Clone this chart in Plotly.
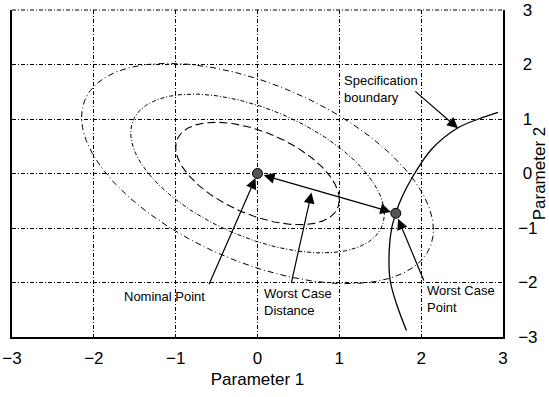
import numpy as np
import plotly.graph_objects as go

# ---------------- data ----------------
x_ticks = [-3, -2, -1, 0, 1, 2, 3]
y_ticks = [-3, -2, -1, 0, 1, 2, 3]
x_tick_text = ["\u22123", "\u22122", "\u22121", "0", "1", "2", "3"]
y_tick_text = ["\u22123", "\u22122", "\u22121", "\u00a00", "\u00a01", "\u00a02", "\u00a03"]

nominal_x = [0.0]
nominal_y = [0.0]
worst_x = [1.69]
worst_y = [-0.73]

# parameters of the Gaussian probability contours
sigma_1 = 1.0
sigma_2 = 0.94
rho = -0.51
contour_levels = [1.0, 1.55, 2.15]

# specification boundary curve
spec_x = [1.82, 1.70, 1.62, 1.61, 1.64, 1.69, 1.76, 1.90, 2.13, 2.44, 2.70, 2.94]
spec_y = [-2.88, -2.40, -1.95, -1.40, -1.00, -0.73, -0.45, -0.05, 0.45, 0.83, 1.00, 1.12]

# text labels (text, left x, vertical centre y)
label_texts = ["Specification<br>boundary", "Nominal Point",
               "Worst Case<br>Distance", "Worst Case<br>Point"]
label_x = [1.03, -1.65, 0.054, 2.05]
label_y = [1.55, -2.26, -2.36, -2.31]

FONT = "Liberation Sans, Arial, Helvetica, sans-serif"

fig = go.Figure()

# contours
styles = [dict(dash="8px,4px", width=1.1),
          dict(dash="4px,2px,1px,2px", width=1.0),
          dict(dash="6px,3px,1px,3px", width=1.0)]
t = np.linspace(0, 2 * np.pi, 361)
for k, st in zip(contour_levels, styles):
    ex = k * sigma_1 * np.cos(t)
    ey = k * sigma_2 * (rho * np.cos(t) + np.sqrt(1 - rho ** 2) * np.sin(t))
    fig.add_trace(go.Scatter(x=ex, y=ey, mode="lines",
                             line=dict(color="black", **st),
                             hoverinfo="skip", showlegend=False))

# specification boundary
fig.add_trace(go.Scatter(x=spec_x, y=spec_y, mode="lines",
                         line=dict(color="black", width=1.3, shape="spline"),
                         showlegend=False))

# points
fig.add_trace(go.Scatter(x=nominal_x + worst_x, y=nominal_y + worst_y, mode="markers",
                         marker=dict(size=10, color="#555555",
                                     line=dict(color="black", width=1)),
                         showlegend=False))

arrow_kw = dict(text="", showarrow=True, xref="x", yref="y", axref="x", ayref="y",
                arrowhead=2, arrowsize=1.8, arrowwidth=1.2, arrowcolor="black")

# double-headed worst case distance arrow
fig.add_annotation(x=worst_x[0], y=worst_y[0], ax=nominal_x[0], ay=nominal_y[0],
                   arrowside="end+start", standoff=5, startstandoff=5, **arrow_kw)
# label arrows
fig.add_annotation(x=2.45, y=0.83, ax=1.91, ay=1.53, **arrow_kw)
fig.add_annotation(x=nominal_x[0], y=nominal_y[0], ax=-0.60, ay=-2.06, standoff=5, **arrow_kw)
fig.add_annotation(x=0.66, y=-0.35, ax=0.41, ay=-2.03, **arrow_kw)
fig.add_annotation(x=worst_x[0], y=worst_y[0], ax=2.04, ay=-1.99, standoff=6, **arrow_kw)

for txt, lx, ly in zip(label_texts, label_x, label_y):
    fig.add_annotation(x=lx, y=ly, text=txt, showarrow=False, xref="x", yref="y",
                       xanchor="left", yanchor="middle", align="left",
                       font=dict(family=FONT, size=13, color="black"))

grid_kw = dict(showgrid=True, gridcolor="black", gridwidth=1, griddash="4px,2px,1px,2px",
               zeroline=False, showline=True, linecolor="black", linewidth=1.5,
               ticks="", tickfont=dict(family=FONT, size=17, color="black"),
               ticklabeloverflow="allow")

fig.update_xaxes(range=[-3, 3], tickvals=x_ticks, ticktext=x_tick_text,
                 title=dict(text="Parameter 1", font=dict(family=FONT, size=17, color="black"),
                            standoff=6),
                 ticklabelstandoff=5, automargin=False, mirror=False, **grid_kw)
fig.update_yaxes(range=[-3, 3], tickvals=y_ticks, ticktext=y_tick_text, side="right",
                 title=dict(text="Parameter 2", font=dict(family=FONT, size=17, color="black"),
                            standoff=8),
                 ticklabelstandoff=10, automargin=False, mirror=True, **grid_kw)

# dash-dot top edge of the frame (grid line at the top of the range)
fig.add_shape(type="line", xref="paper", yref="paper", x0=0, x1=1, y0=1, y1=1,
              line=dict(color="black", width=1, dash="4px,2px,1px,2px"), layer="above")

fig.update_layout(width=549, height=397, autosize=False,
                  margin=dict(l=12, r=46, t=10, b=60),
                  plot_bgcolor="white", paper_bgcolor="white",
                  font=dict(family=FONT, color="black"), showlegend=False)

fig.write_html("out.html")
